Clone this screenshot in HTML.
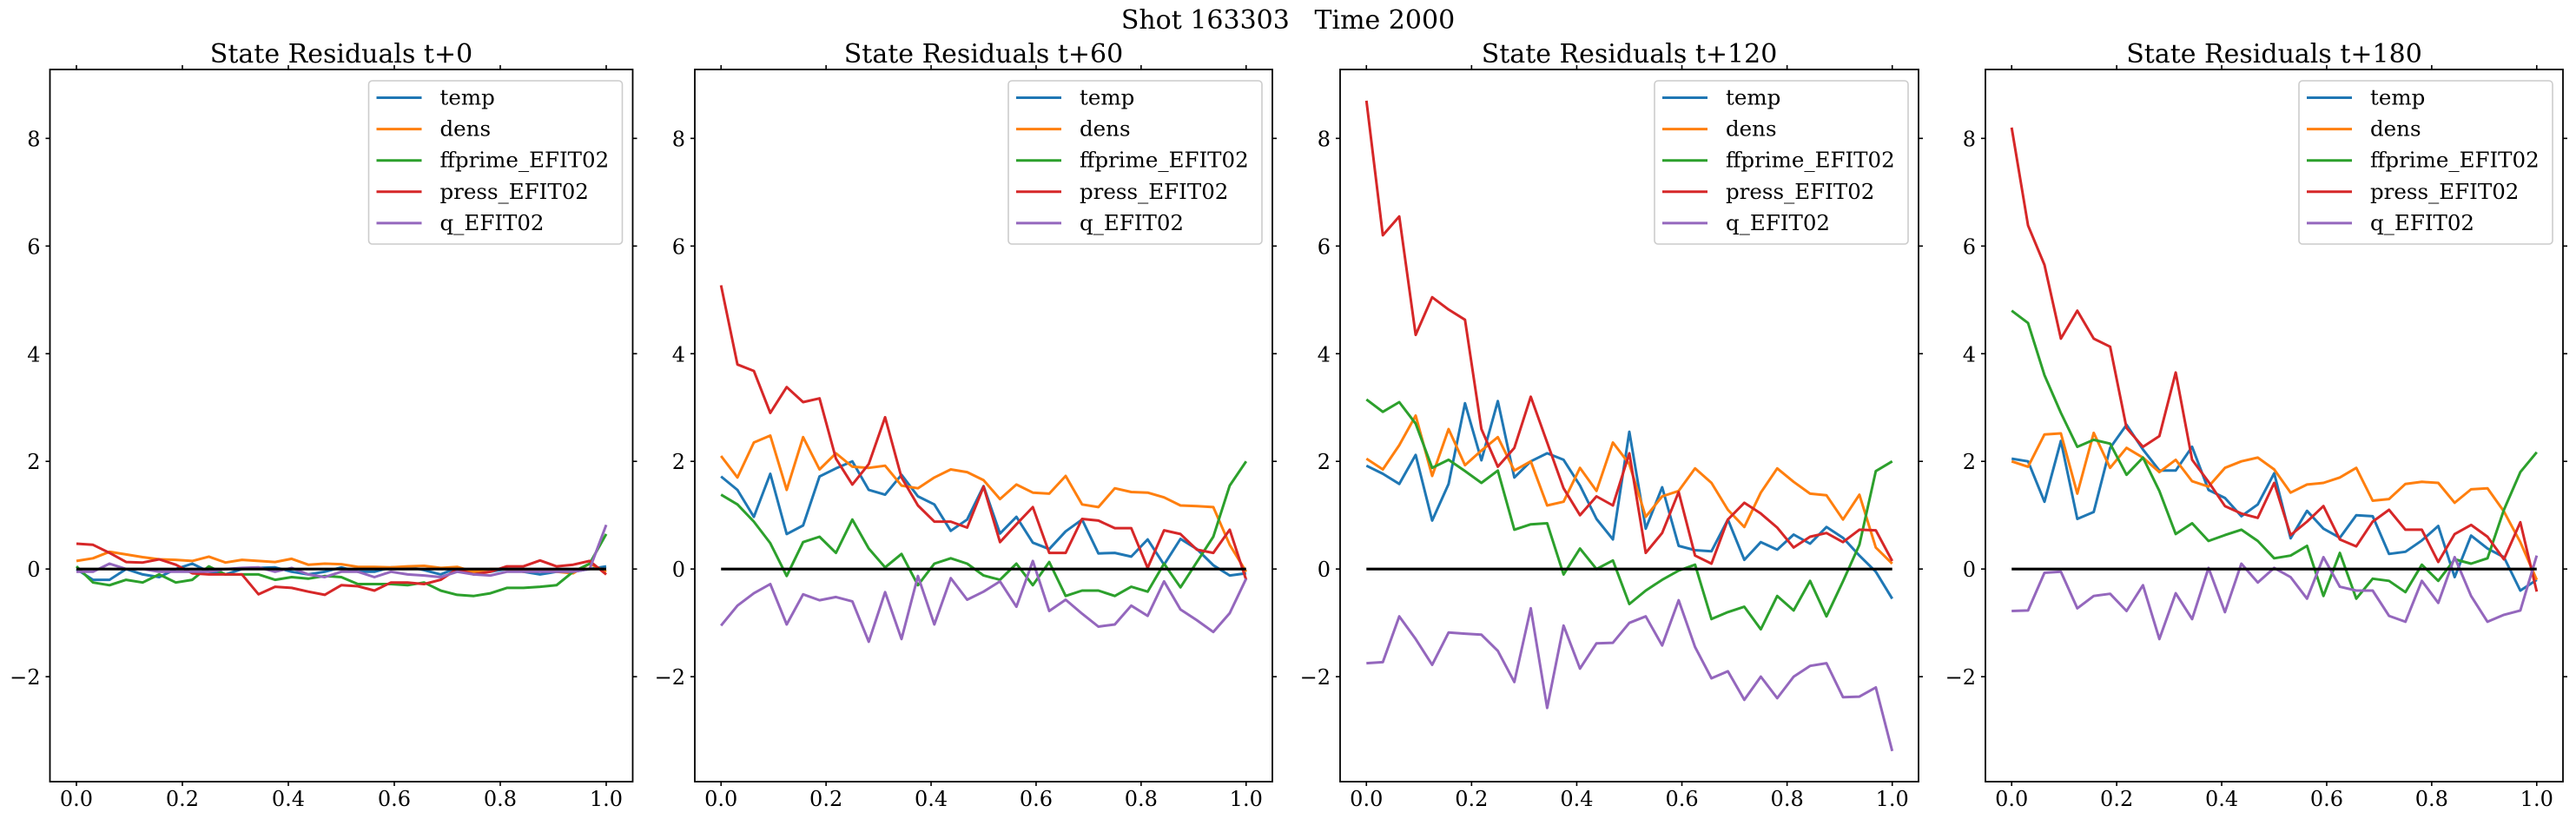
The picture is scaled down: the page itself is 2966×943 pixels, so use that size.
<!DOCTYPE html>
<html><head><meta charset="utf-8"><style>
body{margin:0;background:#fff;}
svg{display:block;font-family:"DejaVu Serif","Liberation Serif",serif;}
</style></head><body>
<svg id="fig" width="2966" height="943" viewBox="0 0 2966 943" xmlns="http://www.w3.org/2000/svg">
<rect width="2966" height="943" fill="#fff"/>
<text x="1483" y="33" font-size="30" text-anchor="middle" xml:space="preserve">Shot 163303   Time 2000</text>
</svg>
<script>
const panelTitles = ["State Residuals t+0","State Residuals t+60","State Residuals t+120","State Residuals t+180"];
const seriesNames = ["temp","dens","ffprime_EFIT02","press_EFIT02","q_EFIT02"];
const xTicks = [0,0.2,0.4,0.6,0.8,1.0];
const xTickLabels = ["0.0","0.2","0.4","0.6","0.8","1.0"];
const yTicks = [-2,0,2,4,6,8];
const yTickLabels = ["\u22122","0","2","4","6","8"];

const p0_temp = [0,-0.2,-0.2,0,-0.1,-0.15,0,0.1,-0.05,-0.1,0,0.02,0.03,-0.05,-0.1,-0.05,0.03,-0.05,-0.05,0.03,0.04,-0.02,-0.1,0.02,-0.05,-0.05,0,-0.05,-0.1,-0.05,-0.05,0,0.05];
const p0_dens = [0.15,0.2,0.32,0.27,0.22,0.18,0.17,0.15,0.23,0.12,0.17,0.15,0.13,0.19,0.08,0.1,0.09,0.04,0.04,0.03,0.05,0.06,0.02,0.04,-0.05,0,0,-0.05,-0.02,-0.05,-0.08,0.1,-0.05];
const p0_ffp = [0.05,-0.25,-0.3,-0.2,-0.25,-0.1,-0.25,-0.2,0.05,-0.1,-0.1,-0.1,-0.2,-0.15,-0.18,-0.13,-0.15,-0.28,-0.28,-0.28,-0.3,-0.25,-0.4,-0.48,-0.5,-0.45,-0.35,-0.35,-0.33,-0.3,-0.05,0.1,0.65];
const p0_press = [0.47,0.45,0.3,0.13,0.12,0.18,0.08,-0.08,-0.1,-0.1,-0.1,-0.47,-0.33,-0.35,-0.42,-0.48,-0.3,-0.32,-0.4,-0.25,-0.25,-0.28,-0.2,0,-0.1,-0.05,0.05,0.05,0.16,0.05,0.08,0.15,-0.1];
const p0_q = [-0.05,-0.05,0.1,0,0,-0.05,-0.05,-0.05,-0.05,0,0.02,0.03,-0.05,0.02,-0.1,-0.15,-0.05,-0.05,-0.15,-0.05,-0.1,-0.12,-0.15,-0.05,-0.1,-0.12,-0.05,-0.05,-0.05,-0.05,-0.05,0,0.82];

const p1_temp = [1.72,1.47,0.97,1.77,0.65,0.81,1.72,1.87,2.0,1.47,1.38,1.75,1.35,1.2,0.71,0.92,1.54,0.66,0.97,0.49,0.37,0.7,0.92,0.29,0.3,0.23,0.55,0.08,0.56,0.37,0.07,-0.12,-0.08];
const p1_dens = [2.1,1.7,2.35,2.48,1.47,2.45,1.85,2.15,1.9,1.88,1.92,1.55,1.5,1.7,1.85,1.8,1.65,1.3,1.57,1.42,1.4,1.73,1.2,1.15,1.5,1.43,1.42,1.33,1.18,1.17,1.15,0.45,-0.05];
const p1_ffp = [1.38,1.2,0.88,0.48,-0.13,0.5,0.6,0.3,0.92,0.38,0.03,0.28,-0.3,0.1,0.2,0.1,-0.12,-0.2,0.1,-0.3,0.13,-0.5,-0.4,-0.4,-0.5,-0.33,-0.42,0.1,-0.34,0.13,0.6,1.55,2.0];
const p1_press = [5.27,3.8,3.68,2.9,3.38,3.1,3.17,2.05,1.57,1.95,2.82,1.7,1.18,0.88,0.88,0.77,1.53,0.5,0.83,1.15,0.3,0.3,0.93,0.9,0.76,0.76,0.02,0.72,0.65,0.36,0.3,0.73,-0.2];
const p1_q = [-1.05,-0.68,-0.45,-0.28,-1.03,-0.47,-0.58,-0.52,-0.6,-1.35,-0.43,-1.3,-0.13,-1.03,-0.17,-0.57,-0.42,-0.23,-0.7,0.15,-0.78,-0.57,-0.83,-1.07,-1.03,-0.68,-0.87,-0.23,-0.75,-0.95,-1.17,-0.82,-0.18];

const p2_temp = [1.92,1.77,1.58,2.12,0.9,1.58,3.08,2.02,3.12,1.7,2.0,2.15,2.03,1.55,0.93,0.55,2.55,0.75,1.52,0.43,0.35,0.33,0.92,0.17,0.5,0.36,0.64,0.47,0.78,0.58,0.25,-0.05,-0.55];
const p2_dens = [2.05,1.85,2.3,2.85,1.73,2.6,1.93,2.2,2.45,1.83,2.0,1.18,1.25,1.88,1.45,2.35,1.95,0.97,1.35,1.45,1.87,1.6,1.1,0.78,1.42,1.87,1.62,1.4,1.37,0.92,1.38,0.4,0.1];
const p2_ffp = [3.15,2.92,3.1,2.7,1.88,2.03,1.82,1.6,1.83,0.73,0.83,0.85,-0.1,0.38,0.0,0.16,-0.65,-0.4,-0.2,-0.03,0.08,-0.93,-0.8,-0.7,-1.12,-0.5,-0.77,-0.22,-0.88,-0.23,0.45,1.82,2.0];
const p2_press = [8.7,6.2,6.55,4.35,5.05,4.82,4.63,2.6,1.9,2.25,3.2,2.35,1.5,1.0,1.35,1.18,2.15,0.3,0.67,1.43,0.25,0.1,0.92,1.23,1.03,0.77,0.4,0.6,0.67,0.5,0.73,0.72,0.15];
const p2_q = [-1.75,-1.73,-0.88,-1.3,-1.78,-1.18,-1.2,-1.22,-1.52,-2.1,-0.73,-2.58,-1.05,-1.85,-1.38,-1.37,-1.0,-0.88,-1.42,-0.58,-1.45,-2.03,-1.9,-2.43,-2.0,-2.4,-2.0,-1.8,-1.75,-2.38,-2.37,-2.2,-3.38];

const p3_temp = [2.05,2.0,1.25,2.38,0.93,1.06,2.25,2.68,2.22,1.83,1.83,2.27,1.47,1.32,0.98,1.2,1.78,0.57,1.08,0.75,0.58,1.0,0.98,0.28,0.32,0.53,0.8,-0.15,0.62,0.38,0.22,-0.4,-0.2];
const p3_dens = [2.0,1.9,2.5,2.52,1.4,2.53,1.88,2.25,2.07,1.8,2.03,1.63,1.53,1.88,2.0,2.07,1.85,1.42,1.57,1.6,1.7,1.88,1.27,1.3,1.58,1.62,1.6,1.23,1.48,1.5,1.07,0.5,-0.2];
const p3_ffp = [4.8,4.57,3.6,2.9,2.27,2.4,2.33,1.75,2.07,1.45,0.65,0.85,0.52,0.63,0.73,0.52,0.2,0.25,0.43,-0.5,0.3,-0.55,-0.18,-0.22,-0.43,0.08,-0.22,0.18,0.1,0.2,1.1,1.8,2.17];
const p3_press = [8.2,6.38,5.65,4.28,4.8,4.28,4.13,2.62,2.27,2.47,3.65,2.03,1.62,1.17,1.03,0.95,1.6,0.63,0.88,1.17,0.55,0.42,0.88,1.1,0.73,0.73,0.13,0.65,0.82,0.6,0.18,0.87,-0.42];
const p3_q = [-0.78,-0.77,-0.07,-0.05,-0.73,-0.5,-0.46,-0.78,-0.3,-1.3,-0.45,-0.93,0.02,-0.8,0.1,-0.25,0.02,-0.15,-0.55,0.22,-0.33,-0.4,-0.4,-0.87,-0.98,-0.22,-0.63,0.22,-0.5,-0.98,-0.85,-0.77,0.25];

const panelData = [[p0_temp,p0_dens,p0_ffp,p0_press,p0_q],[p1_temp,p1_dens,p1_ffp,p1_press,p1_q],[p2_temp,p2_dens,p2_ffp,p2_press,p2_q],[p3_temp,p3_dens,p3_ffp,p3_press,p3_q]];

const colors = ["#1f77b4","#ff7f0e","#2ca02c","#d62728","#9467bd"];
const lefts = [57.5,800,1543,2286];
const widths = [671,665,666,665];
const TOP = 80, BOT = 900;
const XMIN = -0.05, XMAX = 1.05, YMIN = -3.95, YMAX = 9.28;
const NS = "http://www.w3.org/2000/svg";
const svg = document.getElementById("fig");
function mk(tag, attrs, parent){const e=document.createElementNS(NS,tag);for(const k in attrs)e.setAttribute(k,attrs[k]);(parent||svg).appendChild(e);return e;}

panelData.forEach((series, p) => {
  const L = lefts[p], W = widths[p];
  const xs = v => L + (v - XMIN) / (XMAX - XMIN) * W;
  const ys = v => TOP + (YMAX - v) / (YMAX - YMIN) * (BOT - TOP);
  const g = mk("g", {});
  
  
  const t = mk("text", {x: L + W/2, y: 72, "font-size": 30, "text-anchor": "middle"}, g);
  t.textContent = panelTitles[p];
  
  
  xTicks.forEach((v, i) => {
    const x = xs(v);
    mk("line", {x1:x, x2:x, y1:BOT, y2:BOT+5, stroke:"#000", "stroke-width":1.6}, g);
    mk("line", {x1:x, x2:x, y1:TOP, y2:TOP-5, stroke:"#000", "stroke-width":1.6}, g);
    const lb = mk("text", {x:x, y:928, "font-size":24, "text-anchor":"middle"}, g);
    lb.textContent = xTickLabels[i];
    
    
  });
  yTicks.forEach((v, i) => {
    const y = ys(v);
    mk("line", {x1:L, x2:L-5, y1:y, y2:y, stroke:"#000", "stroke-width":1.6}, g);
    mk("line", {x1:L+W, x2:L+W+5, y1:y, y2:y, stroke:"#000", "stroke-width":1.6}, g);
    const lb = mk("text", {x:L-11, y:y+9, "font-size":24, "text-anchor":"end"}, g);
    lb.textContent = yTickLabels[i];
    
    
  });
  series.forEach((arr, s) => {
    const n = arr.length;
    const pts = arr.map((v, i) => xs(i/(n-1)).toFixed(1) + "," + ys(v).toFixed(1)).join(" ");
    const pl = mk("polyline", {points: pts, fill:"none", stroke: colors[s], "stroke-width": 3, "stroke-linejoin":"round"}, g);
    
    
  });
  const zl = mk("line", {x1:xs(0), x2:xs(1), y1:ys(0), y2:ys(0), stroke:"#000", "stroke-width":3.2}, g);
  
  
  const fr = mk("rect", {x:L, y:TOP, width:W, height:BOT-TOP, fill:"none", stroke:"#000", "stroke-width":1.8}, g);
  
  
  const lx = L + W - 304, ly = 93;
  const lg = mk("g", {}, g);
  
  
  mk("rect", {x:lx, y:ly, width:292, height:188, rx:4, fill:"#fff", "fill-opacity":0.8, stroke:"#ccc", "stroke-width":1.6}, lg);
  seriesNames.forEach((nm, s) => {
    const yy = 112.5 + s*36.1;
    const ln = mk("line", {x1:lx+9, x2:lx+61, y1:yy, y2:yy, stroke:colors[s], "stroke-width":3}, lg);
    
    
    const tx = mk("text", {x:lx+82, y:yy+8, "font-size":24.5}, lg);
    tx.textContent = nm;
    
    
  });
});
</script>
</body></html>
